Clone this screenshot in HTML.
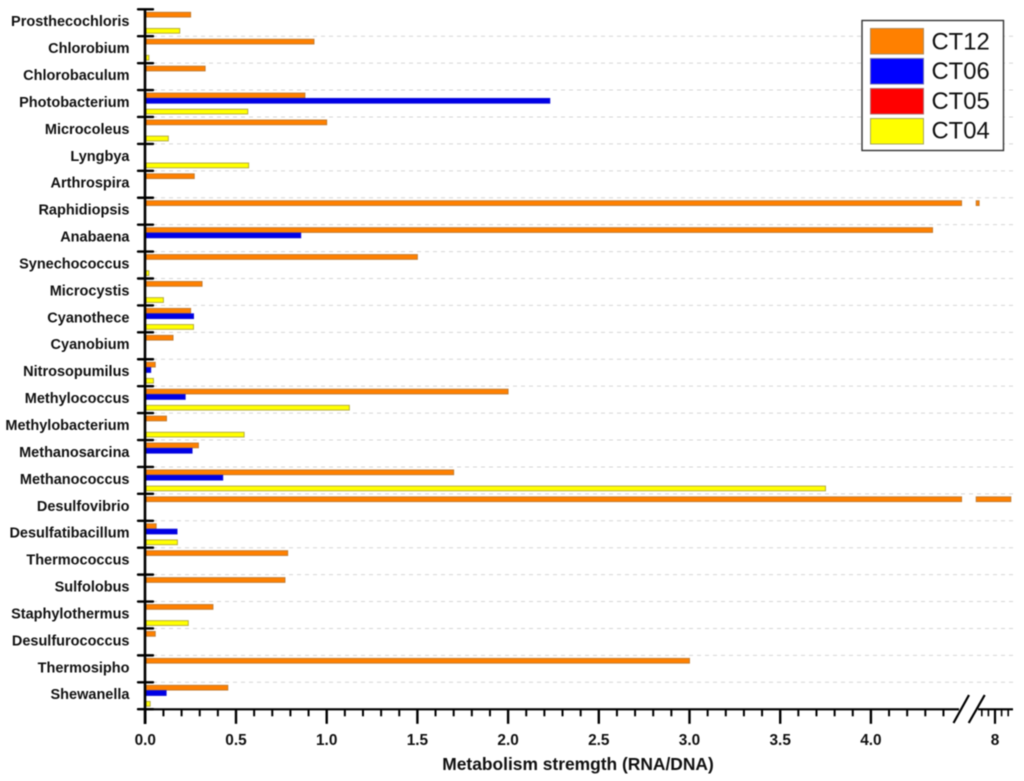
<!DOCTYPE html>
<html>
<head>
<meta charset="utf-8">
<style>
html,body{margin:0;padding:0;background:#fff;width:1024px;height:781px;overflow:hidden}
svg{display:block;filter:blur(0.55px)}
text{font-family:"Liberation Sans",sans-serif}
</style>
</head>
<body>
<svg id="chart" xmlns="http://www.w3.org/2000/svg" width="1024" height="781" viewBox="0 0 1024 781">
  <rect x="0" y="0" width="1024" height="781" fill="#ffffff"/>
  <g id="grid"></g>
  <g id="bars"></g>
  <g id="yaxis"></g>
  <g id="xaxis"></g>
  <text x="578" y="770" text-anchor="middle" font-size="17.4" font-weight="bold" fill="#111111">Metabolism stremgth (RNA/DNA)</text>
  <g>
    <rect x="862" y="20.5" width="141.5" height="130" fill="#ffffff" stroke="#333333" stroke-width="1.4"/>
    <rect x="870.5" y="28.5" width="53" height="25.5" fill="#ff8000" stroke="#b08a5a" stroke-width="1"/>
    <text x="931.5" y="49.5" font-size="23.8" fill="#111111">CT12</text>
    <rect x="870.5" y="58.5" width="53" height="25.5" fill="#0000ff" stroke="#6a6ab0" stroke-width="1"/>
    <text x="931.5" y="79" font-size="23.8" fill="#111111">CT06</text>
    <rect x="870.5" y="88.5" width="53" height="25.5" fill="#ff0000" stroke="#b06a6a" stroke-width="1"/>
    <text x="931.5" y="109" font-size="23.8" fill="#111111">CT05</text>
    <rect x="870.5" y="118.5" width="53" height="25.5" fill="#ffff00" stroke="#a8a860" stroke-width="1"/>
    <text x="931.5" y="138.5" font-size="23.8" fill="#111111">CT04</text>
  </g>
</svg>
<script>
const categories = ["Prosthecochloris","Chlorobium","Chlorobaculum","Photobacterium","Microcoleus","Lyngbya","Arthrospira","Raphidiopsis","Anabaena","Synechococcus","Microcystis","Cyanothece","Cyanobium","Nitrosopumilus","Methylococcus","Methylobacterium","Methanosarcina","Methanococcus","Desulfovibrio","Desulfatibacillum","Thermococcus","Sulfolobus","Staphylothermus","Desulfurococcus","Thermosipho","Shewanella"];
const ct12 = [0.25,0.93,0.33,0.88,1.0,0,0.27,7.52,4.34,1.5,0.313,0.25,0.153,0.055,2.0,0.117,0.293,1.7,8.48,0.06,0.785,0.77,0.373,0.055,3.0,0.455];
const ct06 = [0,0,0,2.23,0,0,0,0,0.857,0,0,0.266,0,0.03,0.22,0,0.258,0.427,0,0.175,0,0,0,0,0,0.115];
const ct05 = [0,0,0,0,0,0,0,0,0,0,0,0,0,0,0,0,0,0,0,0,0,0,0,0,0,0];
const ct04 = [0.19,0.02,0,0.565,0.127,0.57,0,0,0,0.02,0.1,0.266,0,0.045,1.125,0.545,0,3.75,0,0.177,0,0,0.237,0,0,0.027];
const xMajorLower = [0,0.5,1,1.5,2,2.5,3,3.5,4];
const xTickLabelsLower = ["0.0","0.5","1.0","1.5","2.0","2.5","3.0","3.5","4.0"];
const xMinorLower = [0.1,0.2,0.3,0.4,0.6,0.7,0.8,0.9,1.1,1.2,1.3,1.4,1.6,1.7,1.8,1.9,2.1,2.2,2.3,2.4,2.6,2.7,2.8,2.9,3.1,3.2,3.3,3.4,3.6,3.7,3.8,3.9,4.1,4.2,4.3,4.4];
const xMajorUpper = [8];
const xTickLabelsUpper = ["8"];
const xMinorUpper = [7.6,7.8,8.2,8.4];

const NS = "http://www.w3.org/2000/svg";
const breakLow = 4.5, breakHigh = 7.43;
function xScale(v){
  if (v <= breakLow) return 145.3 + v * 181.4;
  if (v < breakHigh) return 145.3 + breakLow * 181.4;
  return 995 + (v - 8) * 33;
}
function rowTop(i){ return 9.3 + i * 26.92; }
function make(tag, attrs, parent){
  const el = document.createElementNS(NS, tag);
  for (const k in attrs) el.setAttribute(k, attrs[k]);
  parent.appendChild(el);
  return el;
}

const gridG = document.getElementById("grid");
const barsG = document.getElementById("bars");
const yG = document.getElementById("yaxis");
const xG = document.getElementById("xaxis");

// grid lines
for (let i = 1; i < categories.length; i++){
  const g = make("line", {x1:153, x2:1013, y1:rowTop(i), y2:rowTop(i), stroke:"#d6d6d6", "stroke-width":1, "stroke-dasharray":"4 4"}, gridG);
  
  
}

// bars
const seriesList = [
  {key:"ct12", values:ct12, fill:"#ff8000", stroke:"#c07a30"},
  {key:"ct06", values:ct06, fill:"#0000e6", stroke:"#1010d8"},
  {key:"ct05", values:ct05, fill:"#ff0000", stroke:"#b06a6a"},
  {key:"ct04", values:ct04, fill:"#ffff00", stroke:"#b0a640"}
];
function drawBar(x1, x2, y, s){
  const w = Math.max(0, x2 - x1);
  const r = make("rect", {x:x1, y:y, width:w, height:4.8, fill:s.fill, stroke: w > 0 ? s.stroke : "none", "stroke-width":0.9}, barsG);
  
  
}
seriesList.forEach(function(s, si){
  s.values.forEach(function(v, i){
    const y = rowTop(i) + 5.38 * (si + 1) - 2.4;
    const x0 = xScale(0) + 0.7;
    if (v > breakLow){
      drawBar(x0, xScale(breakLow), y, s);
      drawBar(xScale(breakHigh), xScale(v), y, s);
    } else {
      drawBar(x0, xScale(v), y, s);
    }
  });
});

// y axis
const yLine = make("line", {x1:145, x2:145, y1:9.3, y2:724, stroke:"#000", "stroke-width":2.6}, yG);


for (let i = 0; i <= categories.length; i++){
  const t = make("line", {x1:138, x2:153, y1:rowTop(i), y2:rowTop(i), stroke:"#000", "stroke-width":2.4, "stroke-linecap":"round"}, yG);
  
  
}
categories.forEach(function(c, i){
  const t = make("text", {x:129.5, y:rowTop(i) + 16.9, "text-anchor":"end", "font-size":14.5, "font-weight":"bold", fill:"#111111"}, yG);
  t.textContent = c;
  
  
});

// x axis
const xLineA = make("line", {x1:145, x2:959, y1:709.3, y2:709.3, stroke:"#000", "stroke-width":2.2}, xG);


const xLineB = make("line", {x1:978, x2:1013, y1:709.3, y2:709.3, stroke:"#000", "stroke-width":2.2}, xG);


const slash1 = make("line", {x1:953.5, y1:723, x2:969, y2:695, stroke:"#000", "stroke-width":2.2}, xG);


const slash2 = make("line", {x1:968.7, y1:723, x2:984.7, y2:695, stroke:"#000", "stroke-width":2.2}, xG);



function drawTick(v, len, w){
  const x = xScale(v);
  const t = make("line", {x1:x, x2:x, y1:709.3, y2:709.3 + len, stroke:"#000", "stroke-width":w}, xG);
  
  
}
function drawLabel(v, s){
  const t = make("text", {x:xScale(v), y:745, "text-anchor":"middle", "font-size":15.4, "font-weight":"bold", fill:"#111111"}, xG);
  t.textContent = s;
  
  
}
xMinorLower.forEach(function(v){ drawTick(v, 7, 2); });
xMinorUpper.forEach(function(v){ drawTick(v, 7, 1.6); });
xMajorLower.forEach(function(v, i){ drawTick(v, 14.5, 2.4); drawLabel(v, xTickLabelsLower[i]); });
xMajorUpper.forEach(function(v, i){ drawTick(v, 14.5, 2.2); drawLabel(v, xTickLabelsUpper[i]); });
</script>
</body>
</html>
